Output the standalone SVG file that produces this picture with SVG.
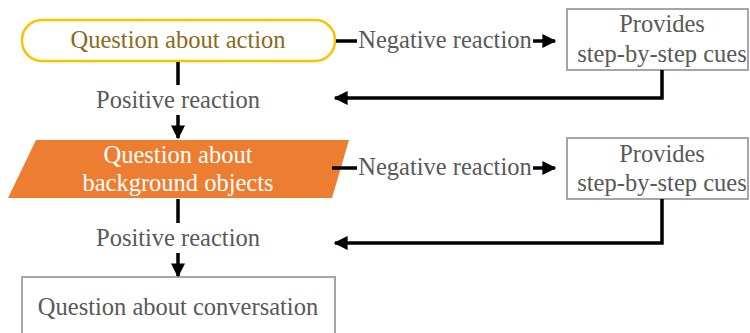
<svg xmlns="http://www.w3.org/2000/svg" width="750" height="333" viewBox="0 0 750 333">
<defs>
<marker id="ah" viewBox="0 0 10 10" refX="9" refY="5" markerWidth="4" markerHeight="4" orient="auto" markerUnits="strokeWidth">
<path d="M0,0 L10,5 L0,10 z" fill="#000"/>
</marker>
<style>
.t{font-family:'Liberation Serif','Times New Roman',Times,serif;font-size:24.5px;fill:#595959;text-anchor:middle}
.w{fill:#fff}
.y{fill:#8c6a1a}
.c{fill:none;stroke:#000;stroke-width:3.5}
.box{fill:#fff;stroke:#a6a6a6;stroke-width:2}
</style>
</defs>
<rect width="750" height="333" fill="#fff"/>
<g id="n1">
<rect x="22" y="20" width="313" height="41" rx="20" ry="20" fill="#fff" stroke="#ffc000" stroke-width="2.5"/>
<text class="t y" x="178" y="48">Question about action</text>
</g>
<g id="n2">
<polygon points="36,140 349,140 332,198 8,198" fill="#ed7d31"/>
<text class="t w" x="178" y="163">Question about</text>
<text class="t w" x="178" y="191">background objects</text>
</g>
<g id="n3">
<rect x="22" y="277" width="313" height="70" class="box"/>
<text class="t" x="178" y="315">Question about conversation</text>
</g>
<g id="n4">
<rect x="567" y="9" width="181" height="61" class="box"/>
<text class="t" x="662" y="32">Provides</text>
<text class="t" x="662" y="62">step-by-step cues</text>
</g>
<g id="n5">
<rect x="567" y="138" width="181" height="61" class="box"/>
<text class="t" x="662" y="162">Provides</text>
<text class="t" x="662" y="191">step-by-step cues</text>
</g>
<g id="connectors">
<line class="c" x1="178" y1="62" x2="178" y2="85"/>
<text class="t" x="178" y="108">Positive reaction</text>
<line class="c" x1="178" y1="115" x2="178" y2="138" marker-end="url(#ah)"/>
<line class="c" x1="178" y1="199" x2="178" y2="223"/>
<text class="t" x="178" y="246">Positive reaction</text>
<line class="c" x1="178" y1="253" x2="178" y2="276" marker-end="url(#ah)"/>
<line class="c" x1="336" y1="41" x2="357" y2="41"/>
<text class="t" x="445" y="48">Negative reaction</text>
<line class="c" x1="533" y1="41" x2="555" y2="41" marker-end="url(#ah)"/>
<line class="c" x1="332" y1="168" x2="357" y2="168"/>
<text class="t" x="445" y="175">Negative reaction</text>
<line class="c" x1="533" y1="168" x2="555" y2="168" marker-end="url(#ah)"/>
<polyline class="c" points="662,70 662,98 335,98" marker-end="url(#ah)"/>
<polyline class="c" points="662,199 662,243 335,243" marker-end="url(#ah)"/>
</g>
</svg>
